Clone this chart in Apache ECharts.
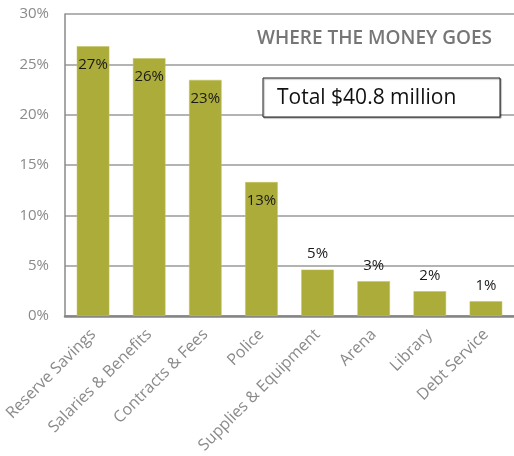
<!DOCTYPE html>
<html>
<head>
<meta charset="utf-8">
<script src="https://cdn.jsdelivr.net/npm/echarts@6/dist/echarts.min.js"></script>
<style>
  html, body { margin: 0; padding: 0; background: #fff; }
  #chart { width: 514px; height: 456px; }
</style>
</head>
<body>
<div id="chart"></div>
<script>
// Budget spending by category, share of total (%)
const categories = ['Reserve Savings', 'Salaries & Benefits', 'Contracts & Fees', 'Police',
  'Supplies & Equipment', 'Arena', 'Library', 'Debt Service'];
const shares = [26.8, 25.6, 23.45, 13.3, 4.6, 3.45, 2.45, 1.45];
const yTicks = [0, 5, 10, 15, 20, 25, 30];
const chartTitle = 'WHERE THE MONEY GOES';
const totalNote = 'Total $40.8 million';

const FONT = '"Open Sans", Lato, sans-serif';
const BAR = '#ACAC3A';

const chart = echarts.init(document.getElementById('chart'), null, { renderer: 'canvas' });

const barData = shares.map(v => ({
  value: v,
  label: v > 10
    ? { position: 'insideTop', distance: 11 }
    : { position: 'top', distance: 8 }
}));

chart.setOption({
  animation: false,
  backgroundColor: '#fff',
  grid: { left: 65, right: 0, top: 14, bottom: 138.5, containLabel: false },
  xAxis: {
    type: 'category',
    data: categories,
    axisTick: { show: false },
    axisLine: { show: true, lineStyle: { color: '#858585', width: 2.5 } },
    axisLabel: {
      rotate: 45,
      interval: 0,
      margin: 16,
      color: '#8a8a8a',
      fontFamily: FONT,
      fontSize: 16
    }
  },
  yAxis: {
    type: 'value',
    min: yTicks[0],
    max: yTicks[yTicks.length - 1],
    interval: 5,
    axisLine: { show: true, lineStyle: { color: '#8a8a8a', width: 1.5 } },
    axisTick: { show: false },
    splitLine: { show: true, lineStyle: { color: '#9a9a9a', width: 1.5 } },
    axisLabel: {
      formatter: '{value}%',
      color: '#8a8a8a',
      fontFamily: FONT,
      fontSize: 15,
      margin: 16
    }
  },
  series: [{
    type: 'bar',
    data: barData,
    barWidth: '58%',
    itemStyle: { color: BAR, borderColor: '#c3c35e', borderWidth: 0.5 },
    label: {
      show: true,
      color: '#1a1a1a',
      fontFamily: FONT,
      fontSize: 15,
      formatter: p => Math.round(p.value) + '%'
    }
  }],
  graphic: [
    {
      type: 'text',
      right: 22,
      top: 29,
      style: {
        text: chartTitle,
        fill: '#767676',
        font: '600 19px ' + FONT
      }
    },
    {
      type: 'rect',
      shape: { x: 263, y: 78, width: 237, height: 39 },
      style: { fill: '#fff', stroke: '#222', lineWidth: 1,
        shadowColor: 'rgba(0,0,0,0.35)', shadowOffsetX: 1, shadowOffsetY: 1, shadowBlur: 1 },
      z: 10
    },
    {
      type: 'text',
      x: 277,
      y: 98,
      style: {
        text: totalNote,
        fill: '#111',
        font: '21px ' + FONT,
        textVerticalAlign: 'middle'
      },
      z: 11
    }
  ]
});
</script>
</body>
</html>
